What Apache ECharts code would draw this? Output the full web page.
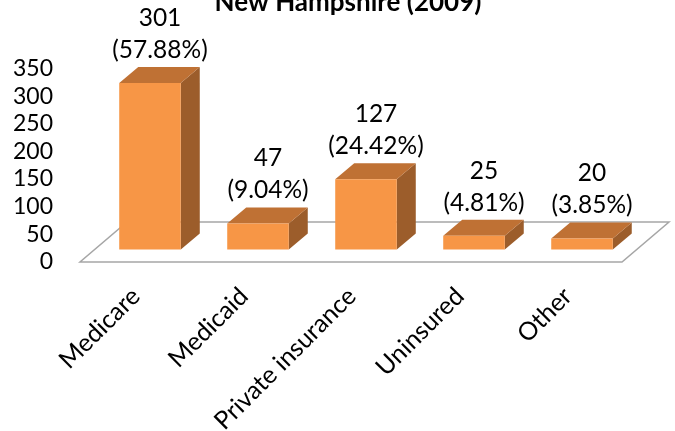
<!DOCTYPE html>
<html>
<head>
<meta charset="utf-8">
<script src="https://cdn.jsdelivr.net/npm/echarts@6/dist/echarts.min.js"></script>
<style>
  html, body { margin: 0; padding: 0; background: #fff; }
  #chart { width: 675px; height: 431px; }
</style>
</head>
<body>
<div id="chart"></div>
<script>
  var categories = ['Medicare', 'Medicaid', 'Private insurance', 'Uninsured', 'Other'];
  var values = [301, 47, 127, 25, 20];
  var percents = ['57.88%', '9.04%', '24.42%', '4.81%', '3.85%'];
  var yTicks = [0, 50, 100, 150, 200, 250, 300, 350];

  var FONT = 'Lato';
  var DEPTH_X = 19, DEPTH_Y = -16;  // bar depth
  var LIFT = 12.5;                   // bars sit mid-floor

  var myChart = echarts.init(document.getElementById('chart'));

  var option = {
    backgroundColor: '#fff',
    animation: false,
    title: {
      text: 'New Hampshire (2009)',
      left: 343,
      textAlign: 'center',
      top: -15,
      textStyle: { fontFamily: FONT, fontSize: 26, fontWeight: 'bold', color: '#000' }
    },
    grid: { left: 96, right: 39, top: 68.5, bottom: 169, outerBoundsMode: 'none', containLabel: false },
    xAxis: {
      type: 'category',
      data: categories,
      axisLine: { show: false },
      axisTick: { show: false },
      axisLabel: {
        rotate: 45, margin: 16, interval: 0,
        padding: [0, 20, 0, 0],
        fontFamily: FONT, fontSize: 25, color: '#000'
      }
    },
    yAxis: {
      type: 'value',
      min: yTicks[0], max: yTicks[yTicks.length - 1], interval: 50,
      axisLine: { show: false },
      axisTick: { show: false },
      splitLine: { show: false },
      axisLabel: { margin: 43, fontFamily: FONT, fontSize: 23, color: '#000' }
    },
    series: [
      {
        // floor
        type: 'custom',
        silent: true,
        clip: false,
        z: 1,
        data: [[0]],
        renderItem: function (params, api) {
          var band = api.size([1, 0])[0];
          var first = api.coord([0, 0]);
          var last = api.coord([categories.length - 1, 0]);
          var lx = first[0] - band / 2, rx = last[0] + band / 2;
          var y = first[1];
          return {
            type: 'polygon',
            shape: { points: [[lx - 16, y], [rx - 14, y], [rx + 33, y - 40], [lx + 31, y - 40]] },
            style: { fill: '#fff', stroke: '#a6a6a6', lineWidth: 1.5 }
          };
        }
      },
      {
        type: 'custom',
        clip: false,
        z: 2,
        data: values.map(function (v, i) { return [i, v]; }),
        renderItem: function (params, api) {
          var i = api.value(0), v = api.value(1);
          var base = api.coord([i, 0]);
          var top = api.coord([i, v]);
          var bw = api.size([1, 0])[0] * 0.57;
          var x0 = base[0] - bw / 2, x1 = base[0] + bw / 2;
          var yb = base[1] - LIFT, yt = top[1] - LIFT;
          return {
            type: 'group',
            children: [
              {
                type: 'polygon',
                shape: { points: [[x1, yb], [x1 + DEPTH_X, yb + DEPTH_Y], [x1 + DEPTH_X, yt + DEPTH_Y], [x1, yt]] },
                style: { fill: '#9c5d2b' }
              },
              {
                type: 'polygon',
                shape: { points: [[x0, yt], [x1, yt], [x1 + DEPTH_X, yt + DEPTH_Y], [x0 + DEPTH_X, yt + DEPTH_Y]] },
                style: { fill: '#bf7134' }
              },
              {
                type: 'rect',
                shape: { x: x0, y: yt, width: bw, height: yb - yt },
                style: { fill: '#f79646' }
              },
              {
                type: 'text',
                x: base[0] + 10,
                y: yt + DEPTH_Y - 1,
                style: {
                  text: v + '\n(' + percents[i] + ')',
                  fontFamily: FONT, fontSize: 24.5, lineHeight: 32,
                  fill: '#000', align: 'center', verticalAlign: 'bottom'
                }
              }
            ]
          };
        }
      }
    ]
  };

  myChart.setOption(option, true);
</script>
</body>
</html>
